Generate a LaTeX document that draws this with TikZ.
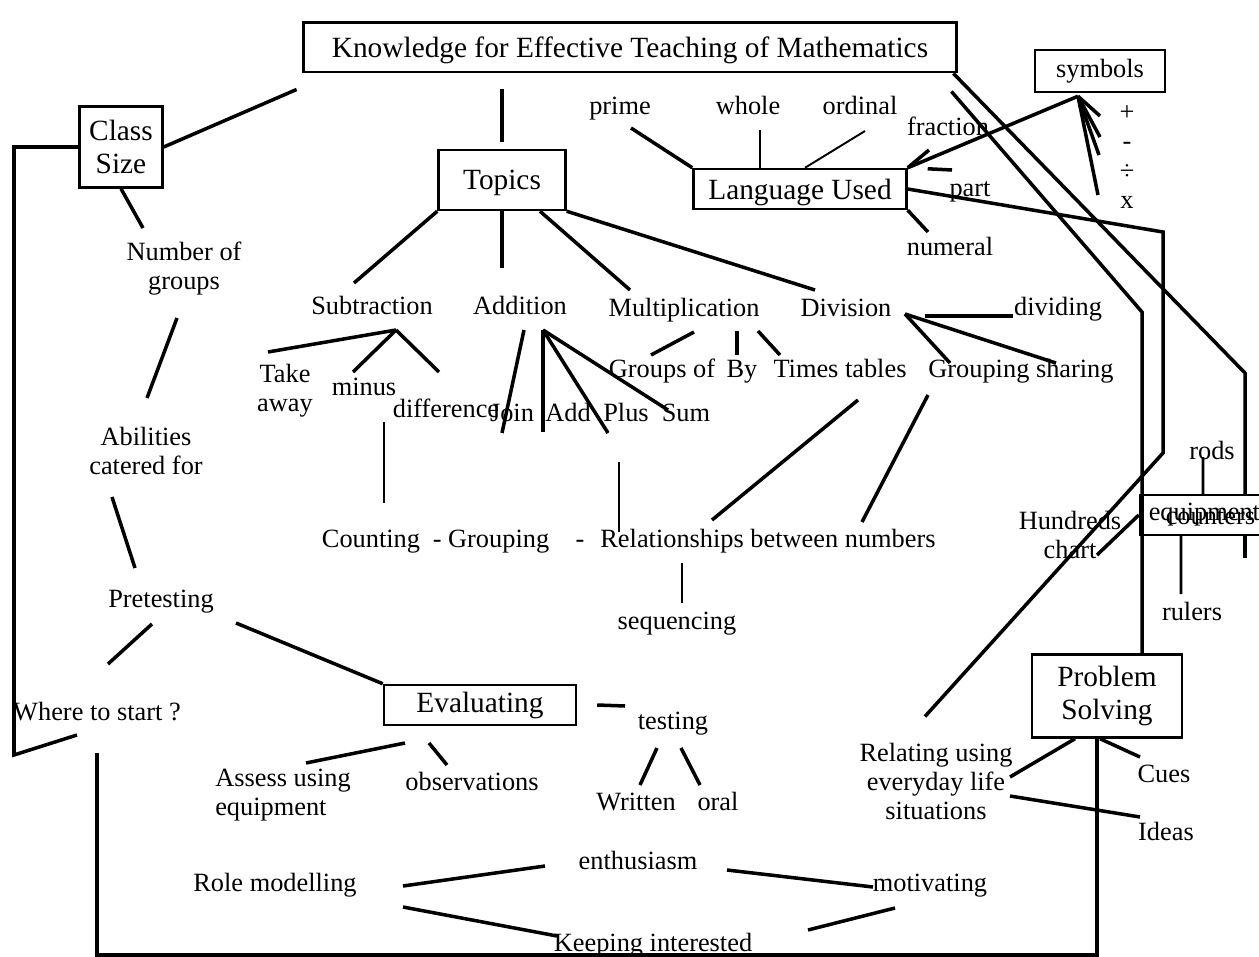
\documentclass[tikz,border=0pt]{standalone}
\usepackage{fontspec}
\setmainfont{Liberation Serif}
\usetikzlibrary{calc}
\newcommand{\mapboxfont}{\fontsize{16.7}{18.5}\selectfont}
\newcommand{\maplblfont}{\fontsize{15}{16.5}\selectfont}

\begin{document}
\begin{tikzpicture}[x=0.02cm, y=-0.02cm, line width=2pt,
		box/.style={draw, line width=1.4pt, font=\mapboxfont, align=center, inner sep=0pt},
		lbl/.style={font=\maplblfont, align=center, inner sep=2pt},
		word/.style={lbl, text height=10.5pt, text depth=0pt},
		thinline/.style={line width=1.1pt}]
		\useasboundingbox (0,0) rectangle (1259,957);

		\node[box, line width=1.7pt, text depth=0pt, minimum width=13.08cm, minimum height=1cm] (title) at (630,47) {Knowledge for Effective Teaching of Mathematics};
		\node[box, font=\maplblfont, minimum width=2.6cm, minimum height=0.84cm] (sym) at (1100,71) {symbols};
		\node[box, minimum width=1.66cm, minimum height=1.62cm] (class) at (121,147) {Class\\Size};
		\node[box, text depth=0pt, minimum width=2.54cm, minimum height=1.2cm] (topics) at (502,180) {Topics};
		\node[box, text depth=0pt, minimum width=4.26cm, minimum height=0.8cm] (lang) at (800,189) {Language Used};
		\node[box, minimum width=3.84cm, minimum height=0.8cm] (eval) at (480,705) {Evaluating};
		\node[box, minimum width=3.0cm, minimum height=1.66cm] (prob) at (1107,696) {Problem\\Solving};
		\node[box, minimum width=3.6cm, minimum height=0.8cm] (equip) at (1230,515) {};

		\node[word] (prime) at (620,105) {prime};
		\node[word] (whole) at (748,105) {whole};
		\node[word] (ordinal) at (860,105) {ordinal};
		\node[word] (fraction) at (948,126) {fraction};
		\node[word] (part) at (970,187) {part};
		\node[word] (numeral) at (950,246) {numeral};
		\node[word] (plus) at (1127,111) {+};
		\node[word] (minussign) at (1127,140) {-};
		\node[word] (divide) at (1127,170) {÷};
		\node[word] (timesign) at (1127,199) {x};

		\node[lbl] (groups) at (184,269) {Number of\\groups};
		\node[word] (sub) at (372,305) {Subtraction};
		\node[word] (add) at (520,305) {Addition};
		\node[word] (mult) at (684,307) {Multiplication};
		\node[word] (div) at (846,307) {Division};
		\node[word] (dividing) at (1058,306) {dividing};
		\node[lbl] (takeaway) at (285,391) {Take\\away};
		\node[word] (minus) at (364,386) {minus};
		\node[word] (diff) at (446,408) {difference};
		\node[word] (join) at (512,412) {Join};
		\node[word] (addw) at (568,412) {Add};
		\node[word] (plusw) at (626,412) {Plus};
		\node[word] (sum) at (686,412) {Sum};
		\node[word] (groupsof) at (662,368) {Groups of};
		\node[word] (by) at (742,368) {By};
		\node[word] (ttab) at (840,368) {Times tables};
		\node[word] (grsh) at (1021,368) {Grouping sharing};

		\node[lbl] (abil) at (146,451) {Abilities\\catered for};
		\node[word] (count) at (371,538) {Counting};
		\node[word] (grouping) at (491,538) {- Grouping};
		\node[word] (sep) at (580,538) {-};
		\node[word] (rel) at (768,538) {Relationships between numbers};
		\node[word] (seq) at (677,620) {sequencing};
		\node[word] (pretest) at (161,598) {Pretesting};
		\node[word] (where) at (97,711) {Where to start ?};
		\node[word] (testing) at (673,720) {testing};
		\node[lbl, align=left] (assess) at (283,795) {Assess using\\equipment};
		\node[word] (obs) at (472,781) {observations};
		\node[word] (written) at (636,801) {Written};
		\node[word] (oral) at (718,801) {oral};
		\node[word] (role) at (275,882) {Role modelling};
		\node[word] (enth) at (638,860) {enthusiasm};
		\node[word] (motiv) at (930,882) {motivating};
		\node[word] (keep) at (653,942) {Keeping interested};
		\node[lbl] (relating) at (936,781) {Relating using\\everyday life\\situations};
		\node[word] (cues) at (1164,773) {Cues};
		\node[word] (ideas) at (1166,831) {Ideas};
		\node[lbl] (hundreds) at (1070,535) {Hundreds\\chart};
		\node[word] (rods) at (1212,450) {rods};
		\node[word] (rulers) at (1192,611) {rulers};
		\node[lbl, anchor=base west, inner sep=0pt] (equiptxt) at (1147,520) {equipment};
		\node[lbl, anchor=base west, inner sep=0pt] (counters) at (1164,524) {counters};

		\coordinate (bendeq) at (1245,373);
		\coordinate (bendps) at (1142,312);
		\draw ([shift={(-5,16)}]title.south west) to (class.east);
		\draw[shorten <=.32cm, shorten >=.14cm] (topics.north |- title.south) to (topics.north);
		\draw ([xshift=-0.1cm]title.south east) -- (bendeq) -- (equip.north -| bendeq);
		\draw ([shift={(-7,18)}]title.south east) -- (bendps) -- (prob.north -| bendps);
		\draw (lang.east) -- (1163,232) -- (1163,453) -- ([shift={(-11,-21)}]relating.north);
		\draw (class.west) -| (14,755) -- (77,735);
		\draw ([xshift=-0.2cm]prob.south) |- (97,955) -- (97,753);

		\coordinate (symfork) at ([shift={(-22,3)}]sym.south);
		\draw (lang.north east) to (symfork);
		\foreach \s/\dx/\dy in {plus/-27/5, minussign/-27/-3, divide/-28/-15, timesign/-29/-4}
			\draw (symfork) to ([shift={(\dx,\dy)}]\s.center);
		\draw (lang.north west) to ([shift={(11,23)}]prime.center);
		\draw[thinline] ([xshift=-0.8cm]lang.north) to ([shift={(12,25)}]whole.center);
		\draw[thinline] ([xshift=0.1cm]lang.north) to ([shift={(5,26)}]ordinal.center);
		\draw (lang.north east) to ([shift={(-19,24)}]fraction.center);
		\draw ([shift={(20,1)}]lang.north east) to ([shift={(-18,-17)}]part.center);
		\draw (lang.south east) to ([shift={(-22,-14)}]numeral.center);

		\draw (topics.south west) to ([shift={(-18,-22)}]sub.center);
		\draw (topics.south) to ([shift={(-18,-37)}]add.center);
		\draw ([xshift=0.76cm]topics.south) to ([shift={(-54,-17)}]mult.center);
		\draw (topics.south east) to ([shift={(-31,-17)}]div.center);

		\coordinate (subfork) at ([shift={(24,25)}]sub.center);
		\draw (subfork) to ([shift={(-17,-39)}]takeaway.center);
		\draw (subfork) to ([shift={(-11,-14)}]minus.center);
		\draw (subfork) to ([shift={(-7,-36)}]diff.center);
		\draw ([shift={(4,25)}]add.center) to ([shift={(-10,21)}]join.center);
		\coordinate (addfork) at ([shift={(23,25)}]add.center);
		\draw (addfork) to ([shift={(-25,20)}]addw.center);
		\draw (addfork) to ([shift={(-18,21)}]plusw.center);
		\draw (addfork) to ([shift={(-18,-2)}]sum.center);
		\draw ([shift={(10,25)}]mult.center) to ([shift={(-11,-13)}]groupsof.center);
		\draw ([shift={(53,24)}]mult.center) to ([shift={(-5,-13)}]by.center);
		\draw ([shift={(74,24)}]mult.center) to ([shift={(-60,-13)}]ttab.center);
		\coordinate (divfork) at ([shift={(59,7)}]div.center);
		\draw (divfork) to ([shift={(-71,-5)}]grsh.center);
		\draw (divfork) to ([shift={(35,-5)}]grsh.center);
		\draw ([shift={(79,9)}]div.center) to ([shift={(-45,10)}]dividing.center);

		\draw ([shift={(18,32)}]ttab.center) to ([shift={(-56,-18)}]rel.center);
		\draw ([shift={(-93,27)}]grsh.center) to ([shift={(94,-16)}]rel.center);
		\draw[thinline] ([shift={(20,36)}]minus.center) to ([shift={(13,-35)}]count.center);
		\draw[thinline] ([shift={(-7,50)}]plusw.center) to ([shift={(-149,-6)}]rel.center);
		\draw[line width=1.5pt] ([shift={(-86,25)}]rel.center) to ([shift={(5,-17)}]seq.center);

		\draw (class.south) to ([shift={(-41,-41)}]groups.center);
		\draw ([shift={(-7,49)}]groups.center) to ([shift={(1,-53)}]abil.center);
		\draw ([shift={(-34,46)}]abil.center) to ([shift={(-26,-30)}]pretest.center);
		\draw ([shift={(-9,26)}]pretest.center) to ([shift={(11,-47)}]where.center);
		\draw ([shift={(75,25)}]pretest.center) to (eval.north west);

		\draw ([xshift=0.4cm]eval.east) to ([shift={(-48,-14)}]testing.center);
		\draw ([shift={(-16,28)}]testing.center) to ([shift={(4,-16)}]written.center);
		\draw ([shift={(8,28)}]testing.center) to ([shift={(-18,-16)}]oral.center);
		\draw ([shift={(-75,38)}]eval.center) to ([shift={(23,-32)}]assess.center);
		\draw ([shift={(-51,38)}]eval.center) to ([shift={(-25,-16)}]obs.center);

		\draw ([shift={(128,4)}]role.center) to ([shift={(-93,6)}]enth.center);
		\draw ([shift={(128,25)}]role.center) to ([shift={(-96,-6)}]keep.center);
		\draw ([shift={(89,10)}]enth.center) to ([shift={(-57,5)}]motiv.center);
		\draw ([shift={(-35,26)}]motiv.center) to ([shift={(155,-12)}]keep.center);

		\draw ([xshift=-0.64cm]prob.south) to ([shift={(74,-4)}]relating.center);
		\draw ([xshift=-0.14cm]prob.south) to ([shift={(-24,-16)}]cues.center);
		\draw ([shift={(74,15)}]relating.center) to ([shift={(-26,-14)}]ideas.center);

		\draw[line width=1.5pt] ([xshift=-0.54cm]equip.north) to ([shift={(-9,7)}]rods.center);
		\draw[line width=1.5pt] ([xshift=-0.98cm]equip.south) to ([shift={(-11,-17)}]rulers.center);
		\draw ([xshift=0.3cm]equip.south) -- ++(0,22);
		\draw (equip.west) to ([shift={(27,20)}]hundreds.center);
	\end{tikzpicture}
\end{document}
